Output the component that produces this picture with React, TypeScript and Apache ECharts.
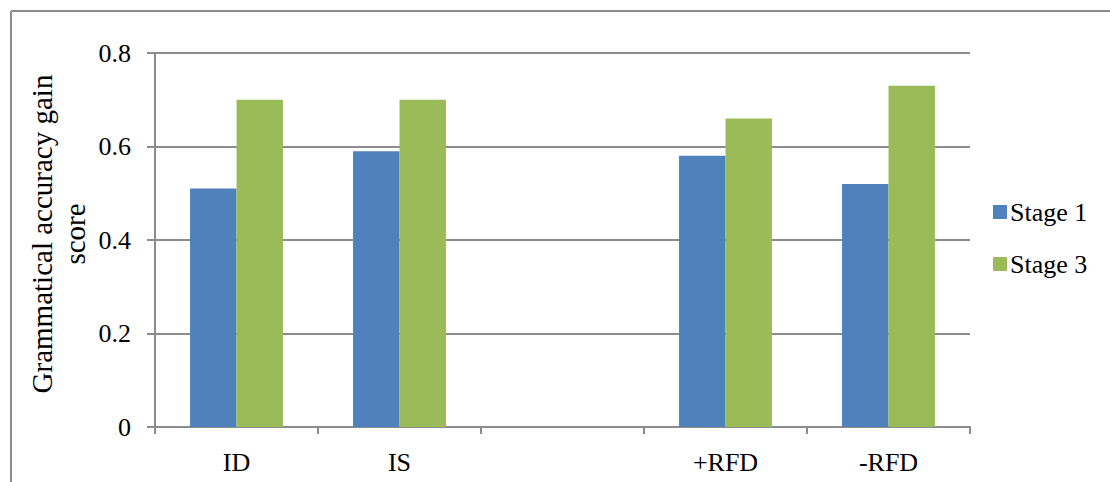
import React, { useEffect, useRef } from "react";
import * as echarts from "echarts";

const categories = ["ID", "IS", "", "+RFD", "-RFD"];
const stage1 = [0.51, 0.59, null, 0.58, 0.52];
const stage3 = [0.7, 0.7, null, 0.66, 0.73];
const yTicks = [0, 0.2, 0.4, 0.6, 0.8];
const seriesNames = ["Stage 1", "Stage 3"];
const yTitle = "Grammatical accuracy gain\nscore";

const FONT = "Liberation Serif";
const GRAY = "#8c8c8c";

export default function App() {
  const ref = useRef<HTMLDivElement>(null);
  useEffect(() => {
    if (!ref.current) return;
    const chart = echarts.init(ref.current, null, { renderer: "svg" });
    chart.setOption({
      animation: false,
      backgroundColor: "#ffffff",
      textStyle: { fontFamily: FONT, color: "#000" },
      grid: { left: 155, right: 140, top: 53, bottom: 55, containLabel: false },
      legend: {
        orient: "vertical",
        left: 988,
        top: 194,
        itemWidth: 14,
        itemHeight: 14,
        itemGap: 26,
        icon: "rect",
        data: seriesNames,
        textStyle: { fontFamily: FONT, fontSize: 26, color: "#000", padding: [0, 0, 0, -2] },
      },
      xAxis: {
        type: "category",
        data: categories,
        axisLine: { lineStyle: { color: GRAY, width: 2 } },
        axisTick: { show: true, length: 7, alignWithLabel: false, lineStyle: { color: GRAY, width: 2 } },
        axisLabel: { fontFamily: FONT, fontSize: 26, color: "#000", margin: 22, interval: 0 },
        splitLine: { show: false },
      },
      yAxis: {
        type: "value",
        min: 0,
        max: yTicks[yTicks.length - 1],
        interval: 0.2,
        axisLine: { show: true, lineStyle: { color: GRAY, width: 2 } },
        axisTick: { show: true, length: 8, lineStyle: { color: GRAY, width: 2 } },
        axisLabel: {
          fontFamily: FONT,
          fontSize: 26,
          color: "#000",
          margin: 24,
          formatter: (v: number) => (v === 0 ? "0" : String(Math.round(v * 10) / 10)),
        },
        splitLine: { show: true, lineStyle: { color: GRAY, width: 2 } },
      },
      series: [
        {
          name: seriesNames[0],
          type: "bar",
          data: stage1,
          itemStyle: { color: "#4F81BD" },
          barGap: "0%",
          barCategoryGap: "43%",
        },
        {
          name: seriesNames[1],
          type: "bar",
          data: stage3,
          itemStyle: { color: "#9BBB59" },
          barGap: "0%",
          barCategoryGap: "43%",
        },
      ],
      graphic: [
        {
          type: "line",
          shape: { x1: 11, y1: 11, x2: 1110, y2: 11 },
          style: { stroke: GRAY, lineWidth: 2 },
          silent: true,
        },
        {
          type: "line",
          shape: { x1: 11, y1: 11, x2: 11, y2: 482 },
          style: { stroke: GRAY, lineWidth: 2 },
          silent: true,
        },
        {
          type: "text",
          x: 58,
          y: 234,
          rotation: Math.PI / 2,
          style: {
            text: yTitle,
            fontFamily: FONT,
            fontSize: 29,
            lineHeight: 33,
            fill: "#000",
            align: "center",
            verticalAlign: "middle",
          },
        },
      ],
    });
    return () => chart.dispose();
  }, []);
  return (
    <div
      ref={ref}
      style={{ position: "absolute", left: 0, top: 0, width: 1110, height: 482, background: "#fff" }}
    />
  );
}
